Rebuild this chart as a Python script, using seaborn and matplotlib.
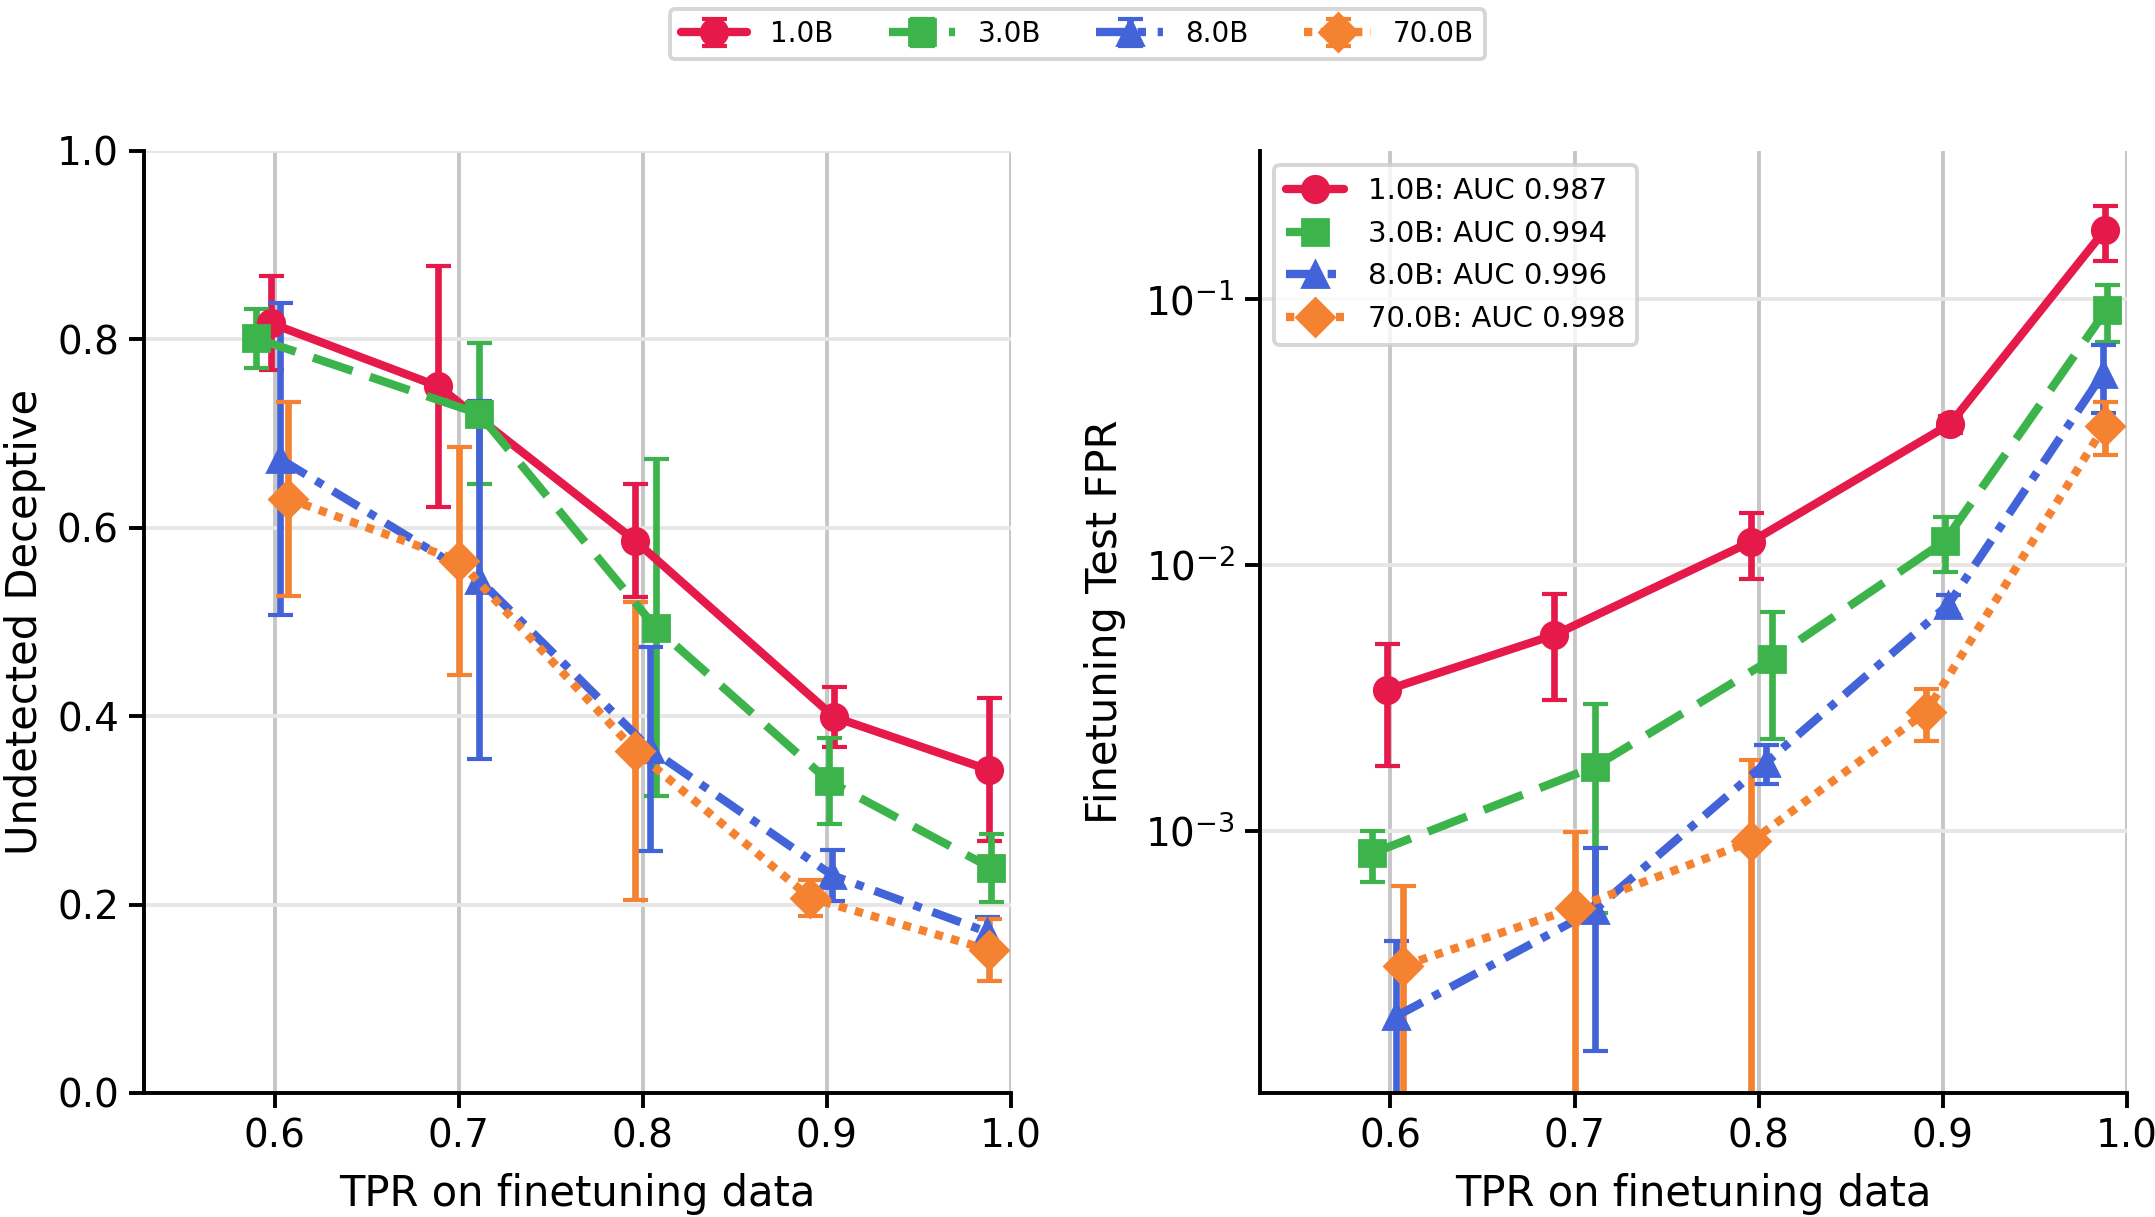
import numpy as np
import matplotlib.pyplot as plt
import seaborn as sns
from matplotlib.ticker import NullLocator

sns.set_style("ticks")
plt.rcParams['font.family'] = ['DejaVu Sans']
plt.rcParams.update({'text.color': 'black', 'axes.labelcolor': 'black',
                     'xtick.color': 'black', 'ytick.color': 'black'})

models = ["1.0B", "3.0B", "8.0B", "70.0B"]
aucs = ["0.987", "0.994", "0.996", "0.998"]
colors = ["#e6194b", "#3cb44b", "#4363d8", "#f58231"]
markers = ["o", "s", "^", "D"]
dashes = [None, (5.0, 2.2), (3.6, 1.4, 1.0, 1.4), (1.0, 1.0)]

# TPR on finetuning data (x) per model
tpr_1b = [0.598, 0.689, 0.796, 0.904, 0.988]
tpr_3b = [0.590, 0.711, 0.807, 0.901, 0.989]
tpr_8b = [0.603, 0.711, 0.804, 0.903, 0.987]
tpr_70b = [0.607, 0.700, 0.796, 0.891, 0.988]

# undetected deceptive fraction + error
und_1b = [0.817, 0.750, 0.586, 0.399, 0.343]
und_1b_err = [0.050, 0.128, 0.060, 0.032, 0.076]
und_3b = [0.801, 0.721, 0.494, 0.331, 0.239]
und_3b_err = [0.031, 0.075, 0.179, 0.046, 0.036]
und_8b = [0.673, 0.545, 0.365, 0.231, 0.171]
und_8b_err = [0.166, 0.190, 0.108, 0.027, 0.016]
und_70b = [0.631, 0.565, 0.363, 0.207, 0.152]
und_70b_err = [0.103, 0.121, 0.158, 0.019, 0.033]

# finetuning test FPR + error
fpr_1b = [3.38e-3, 5.44e-3, 0.0122, 0.0338, 0.181]
fpr_1b_err = [1.63e-3, 2.35e-3, 3.4e-3, 2.5e-3, 0.042]
fpr_3b = [8.2e-4, 1.74e-3, 4.41e-3, 0.01225, 0.091]
fpr_3b_err = [1.8e-4, 1.25e-3, 2.2e-3, 2.9e-3, 0.022]
fpr_8b = [2.0e-4, 5.03e-4, 1.80e-3, 7.07e-3, 0.0522]
fpr_8b_err = [1.83e-4, 3.55e-4, 3.0e-4, 6.0e-4, 0.0149]
fpr_70b = [3.1e-4, 5.11e-4, 9.1e-4, 2.79e-3, 0.0333]
fpr_70b_err = [3.1e-4, 4.75e-4, 9.4e-4, 6.2e-4, 0.0075]

tprs = [tpr_1b, tpr_3b, tpr_8b, tpr_70b]
unds = [und_1b, und_3b, und_8b, und_70b]
und_errs = [und_1b_err, und_3b_err, und_8b_err, und_70b_err]
fprs = [fpr_1b, fpr_3b, fpr_8b, fpr_70b]
fpr_errs = [fpr_1b_err, fpr_3b_err, fpr_8b_err, fpr_70b_err]

fig, (ax1, ax2) = plt.subplots(1, 2, figsize=(10.775, 6.085), dpi=200)
fig.subplots_adjust(left=0.0668, right=0.9869, bottom=0.1019, top=0.876, wspace=0.287)

kw = dict(lw=3.0, ms=9.5, capsize=4.5, capthick=1.5, elinewidth=2.4)


def draw(ax, x, y, err, i, label=None):
    c = ax.errorbar(x, y, yerr=err, color=colors[i], marker=markers[i], label=label, **kw)
    if dashes[i] is not None:
        c.lines[0].set_dashes(dashes[i])
    return c


right_lines = []
for i in range(4):
    draw(ax1, tprs[i], unds[i], und_errs[i], i, label=models[i])
    c = draw(ax2, tprs[i], fprs[i], fpr_errs[i], i)
    right_lines.append(c.lines[0])

ax1.set_xlim(0.529, 1.0)
ax1.set_ylim(0, 1.0)
ax1.set_ylabel("Undetected Deceptive", fontsize=15, labelpad=4)

ax2.set_yscale('log')
ax2.set_xlim(0.529, 1.0)
ax2.set_ylim(1.03e-4, 0.36)
ax2.yaxis.set_minor_locator(NullLocator())
ax2.set_ylabel("Finetuning Test FPR", fontsize=15, labelpad=7)

for ax in (ax1, ax2):
    ax.set_xticks([0.6, 0.7, 0.8, 0.9, 1.0])
    ax.set_xlabel("TPR on finetuning data", fontsize=15, labelpad=6)
    ax.grid(True, axis='x', color='#c6c6c6', lw=1.4)
    ax.grid(True, axis='y', color='#e6e6e6', lw=1.4)
    ax.set_axisbelow(True)
    ax.tick_params(labelsize=14, length=5.5, width=1.4, color='black')
    for s in ('left', 'bottom'):
        ax.spines[s].set_linewidth(1.4)
        ax.spines[s].set_color('black')
    sns.despine(ax=ax)

leg2 = ax2.legend(right_lines, [f"{m}: AUC {a}" for m, a in zip(models, aucs)],
                  loc='upper left', fontsize=10.5, frameon=True, edgecolor='#cccccc')
leg2.get_frame().set_linewidth(1.4)

h, l = ax1.get_legend_handles_labels()
leg = fig.legend(h, l, loc='upper center', ncol=4, bbox_to_anchor=(0.5, 1.004),
                 fontsize=10, frameon=True, edgecolor='#cccccc', handlelength=2.4,
                 columnspacing=2.0)
leg.get_frame().set_linewidth(1.4)

fig.savefig("out.png", dpi=200)
